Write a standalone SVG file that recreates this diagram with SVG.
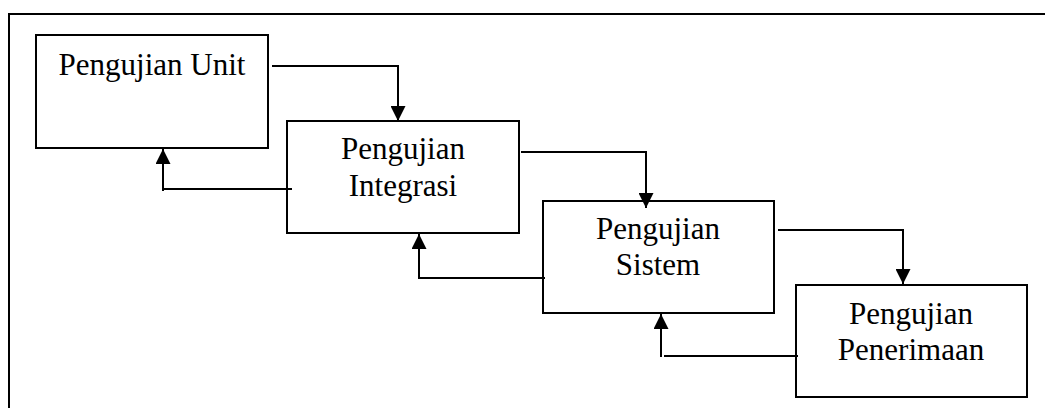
<svg xmlns="http://www.w3.org/2000/svg" width="1045" height="408" viewBox="0 0 1045 408">
<style>
.box{fill:#fff;stroke:#000;stroke-width:2}
.lbl{font-family:"Liberation Serif","Times New Roman",serif;font-size:31px;fill:#000;text-anchor:middle}
.conn{fill:none;stroke:#000;stroke-width:2}
.frame{fill:none;stroke:#000;stroke-width:2}
</style>
<defs>
<marker id="ah" viewBox="0 0 15 15" refX="15" refY="7.5" markerWidth="15" markerHeight="15" markerUnits="userSpaceOnUse" orient="auto">
<path d="M0,0 L15,7.5 L0,15 Z" fill="#000"/>
</marker>
</defs>
<rect width="1045" height="408" fill="#fff"/>
<path class="frame" d="M9,408 V14 H1045"/>
<g id="node-unit">
<rect class="box" x="36" y="35" width="232" height="113"/>
<text class="lbl" x="152" y="75">Pengujian Unit</text>
</g>
<g id="node-integrasi">
<rect class="box" x="287" y="121" width="232" height="112"/>
<text class="lbl" x="403" y="159">Pengujian</text>
<text class="lbl" x="403" y="196">Integrasi</text>
</g>
<g id="node-sistem">
<rect class="box" x="543" y="201" width="231" height="112"/>
<text class="lbl" x="658" y="239">Pengujian</text>
<text class="lbl" x="658" y="275">Sistem</text>
</g>
<g id="node-penerimaan">
<rect class="box" x="796" y="285" width="231" height="112"/>
<text class="lbl" x="911" y="324">Pengujian</text>
<text class="lbl" x="911" y="360">Penerimaan</text>
</g>
<g id="connectors">
<path class="conn" d="M272,66 H398 V121" marker-end="url(#ah)"/>
<path class="conn" d="M292,189 H163 V191 M163,191 V149" marker-end="url(#ah)"/>
<path class="conn" d="M521,152 H646 V208" marker-end="url(#ah)"/>
<path class="conn" d="M545,278 H419 V234" marker-end="url(#ah)"/>
<path class="conn" d="M778,230 H903 V284" marker-end="url(#ah)"/>
<path class="conn" d="M798,356 H664"/>
<path class="conn" d="M661,357 V314" marker-end="url(#ah)"/>
</g>
</svg>
